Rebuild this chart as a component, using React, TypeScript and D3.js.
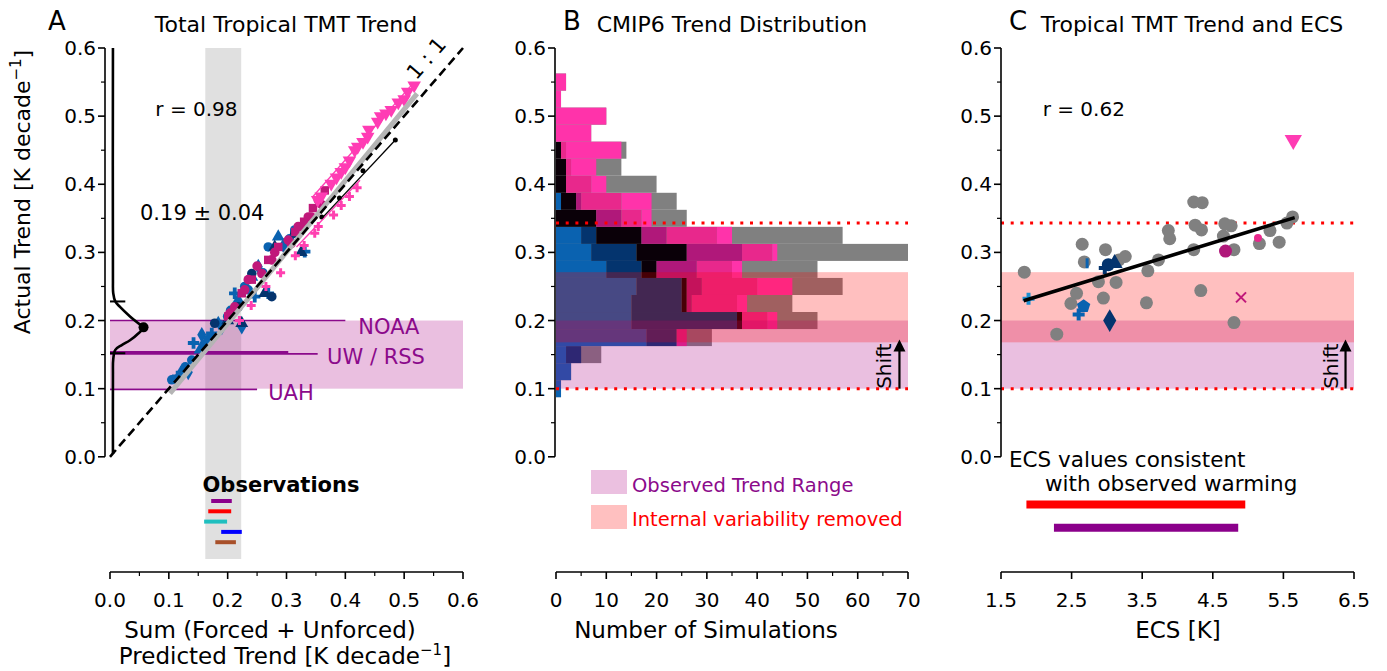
import React from "react";
import * as d3 from "d3";

const FONT = "DejaVu Sans, Verdana, sans-serif";
const PURPLE = "#8b0a8b";

// shared y axis (tropical TMT trend, K/decade)
const yTicks = [0, 0.1, 0.2, 0.3, 0.4, 0.5, 0.6];
const yMinor = [0.05, 0.15, 0.25, 0.35, 0.45, 0.55];
const observedRange = [0.1, 0.2];
const forcedRange = [0.168, 0.271];
const dottedLevels = [0.1, 0.343];

// ---------- panel A ----------
const aXTicks = [0, 0.1, 0.2, 0.3, 0.4, 0.5, 0.6];
const aXMinor = [0.05, 0.15, 0.25, 0.35, 0.45, 0.55];
const obsBand = [0.162, 0.223];

const obsNames = ["NOAA", "UW", "RSS", "UAH"];
const obsTrend = [0.2, 0.153, 0.151, 0.099];
const obsLineEnd = [0.4, 0.303, 0.353, 0.25];

// observations (predicted trend ranges)
const obsSegLo = [0.172, 0.167, 0.16, 0.189, 0.179];
const obsSegHi = [0.207, 0.206, 0.199, 0.224, 0.214];
const obsSegColor = ["#8b008b", "#ff0000", "#1fbfbf", "#0000ff", "#a8502a"];

// KDE of residual
const kdeTrend = [0.6, 0.26, 0.24, 0.228, 0.22, 0.206, 0.196, 0.19, 0.181, 0.171, 0.164, 0.157, 0.143, 0.12, 0.004];
const kdeDensity = [0.005, 0.005, 0.0055, 0.009, 0.017, 0.034, 0.048, 0.057, 0.048, 0.034, 0.02, 0.009, 0.0055, 0.005, 0.005];

// [predicted, actual]
const aBlue: [number, number][] = [
  [0.105, 0.113], [0.115, 0.118], [0.12, 0.123], [0.133, 0.124], [0.128, 0.132], [0.139, 0.142],
  [0.142, 0.167], [0.153, 0.157], [0.156, 0.179], [0.16, 0.165], [0.167, 0.172], [0.173, 0.181],
  [0.184, 0.196], [0.19, 0.19], [0.2, 0.206], [0.205, 0.215], [0.212, 0.24], [0.218, 0.23],
  [0.224, 0.191], [0.229, 0.25], [0.235, 0.245], [0.246, 0.235], [0.241, 0.264], [0.252, 0.279],
  [0.26, 0.27], [0.269, 0.308], [0.269, 0.24], [0.286, 0.323], [0.295, 0.31], [0.305, 0.32],
  [0.314, 0.333], [0.331, 0.301],
];
const aNavy: [number, number][] = [
  [0.178, 0.196], [0.2, 0.2], [0.218, 0.22], [0.224, 0.196], [0.241, 0.269], [0.263, 0.24],
  [0.275, 0.235], [0.28, 0.308], [0.314, 0.328], [0.325, 0.3],
];
const aMagenta: [number, number][] = [
  [0.201, 0.206], [0.204, 0.211], [0.212, 0.22], [0.224, 0.24], [0.229, 0.245], [0.235, 0.26],
  [0.241, 0.26], [0.25, 0.28], [0.258, 0.269], [0.269, 0.289], [0.275, 0.289], [0.28, 0.3],
  [0.286, 0.308], [0.303, 0.318], [0.308, 0.313], [0.315, 0.33], [0.32, 0.338], [0.325, 0.338],
  [0.33, 0.345], [0.337, 0.352], [0.342, 0.352], [0.345, 0.365], [0.354, 0.377], [0.36, 0.37],
  [0.365, 0.391],
];
const aHot: [number, number][] = [
  [0.353, 0.377], [0.359, 0.382], [0.376, 0.401], [0.385, 0.41], [0.393, 0.418], [0.4, 0.425],
  [0.407, 0.435], [0.416, 0.45], [0.421, 0.455], [0.43, 0.462], [0.438, 0.47], [0.44, 0.48],
  [0.455, 0.492], [0.46, 0.5], [0.469, 0.504], [0.478, 0.509], [0.49, 0.52], [0.5, 0.525],
  [0.506, 0.536], [0.517, 0.545],
];
const aPink: [number, number][] = [
  [0.22, 0.2], [0.24, 0.222], [0.265, 0.25], [0.29, 0.27], [0.315, 0.295], [0.33, 0.31],
  [0.348, 0.328], [0.354, 0.338], [0.38, 0.355], [0.393, 0.369], [0.407, 0.382], [0.42, 0.395],
];
const aBlack: [number, number][] = [[0.36, 0.352], [0.39, 0.38], [0.43, 0.42], [0.485, 0.465]];
const aFitLine: [number, number][] = [[0.102, 0.093], [0.522, 0.533]];
const aBlackLine: [number, number][] = [[0.36, 0.35], [0.485, 0.465]];
const aPinkLines: [number, number][][] = [
  [[0.317, 0.308], [0.425, 0.406]],
  [[0.345, 0.382], [0.515, 0.548]],
];

// ---------- panel B ----------
const bXTicks = [0, 10, 20, 30, 40, 50, 60, 70];
const bXMinor = [5, 15, 25, 35, 45, 55, 65];
const binCenters = [0.1, 0.125, 0.15, 0.175, 0.2, 0.225, 0.25, 0.275, 0.3, 0.325, 0.35, 0.375, 0.4, 0.425, 0.45, 0.475, 0.5, 0.525, 0.55];
const countAll = [1, 3, 9, 31, 52, 47, 57, 52, 70, 57, 26, 24, 20, 13, 14, 7, 10, 1, 2];
const countBlue = [1, 3, 2, 18, 15, 15, 16, 10, 7, 5, 0, 1, 0, 0, 0, 0, 0, 0, 0];
const countNavy = [0, 0, 3, 6, 21, 10, 9, 7, 9, 3, 0, 0, 0, 0, 0, 0, 0, 0, 0];
const countBlack = [0, 0, 0, 0, 1, 1, 1, 3, 10, 9, 8, 3, 2, 2, 1, 0, 0, 0, 0];
const countMagenta = [0, 0, 0, 0, 0, 1, 3, 8, 11, 5, 5, 1, 0, 0, 0, 0, 0, 0, 0];
const countPink = [0, 0, 0, 2, 5, 9, 11, 7, 6, 10, 4, 8, 5, 1, 1, 0, 0, 0, 0];
const countHot = [0, 0, 0, 0, 2, 2, 7, 2, 1, 3, 2, 6, 3, 5, 11, 7, 10, 1, 2];
const groupCounts = [countBlue, countNavy, countBlack, countMagenta, countPink, countHot];
const groupColors = ["#0a62b0", "#04346e", "#0a0008", "#b0187a", "#e8288c", "#ff33aa"];

// ---------- panel C ----------
const cXTicks = [1.5, 2.5, 3.5, 4.5, 5.5, 6.5];
const cGrayEcs = [1.83, 2.29, 2.49, 2.57, 2.65, 2.68, 2.88, 2.95, 2.98, 3.13, 3.17, 3.26, 3.56, 3.58, 3.73, 3.87, 3.89, 4.23, 4.35, 4.25, 4.34, 4.23, 4.33, 4.67, 4.76, 4.65, 4.8, 4.8, 5.16, 5.31, 5.44, 5.55, 5.63];
const cGrayTrend = [0.271, 0.18, 0.225, 0.24, 0.312, 0.286, 0.257, 0.233, 0.304, 0.256, 0.289, 0.294, 0.226, 0.273, 0.289, 0.332, 0.32, 0.374, 0.373, 0.34, 0.333, 0.304, 0.244, 0.342, 0.339, 0.324, 0.304, 0.197, 0.313, 0.332, 0.315, 0.343, 0.352];
const cModelEcs = [5.64, 4.68, 5.14, 4.9, 3.04, 2.67, 2.6, 3.02, 3.11, 2.97, 2.72, 1.89];
const cModelTrend = [0.465, 0.302, 0.321, 0.234, 0.2, 0.221, 0.209, 0.282, 0.284, 0.277, 0.284, 0.232];
const cModelShape = ["tri", "circle", "dot", "x", "diamond", "pent", "plus", "circle", "triup", "plus", "bar", "plus"];
const cModelColor = ["#ff3cb4", "#b0187a", "#e8288c", "#c0187a", "#04346e", "#0a62b0", "#0a62b0", "#04346e", "#04346e", "#04346e", "#0a62b0", "#1e90d0"];
const cFit: [number, number][] = [[1.82, 0.229], [5.66, 0.351]];
const ecsRangeLo = [1.86, 2.25];
const ecsRangeHi = [4.96, 4.86];
const ecsRangeColor = ["#ff0000", "#8b008b"];

// scales
const y = d3.scaleLinear().domain([-0.15, 0.6]).range([559, 48]);
const xA = d3.scaleLinear().domain([0, 0.6]).range([110, 463]);
const xB = d3.scaleLinear().domain([0, 70]).range([556, 908]);
const xC = d3.scaleLinear().domain([1.5, 6.5]).range([1001, 1354]);
const AXIS_Y = 572;
const TICK_FS = 20;
const LABEL_FS = 23;
const TITLE_FS = 22;

function sym(type: any, size: number) {
  return d3.symbol().type(type).size(size)() as string;
}

function YAxis({ x }: { x: number }) {
  return (
    <g>
      <line x1={x} x2={x} y1={y(0)} y2={y(0.6)} stroke="#000" strokeWidth={1.6} />
      {yTicks.map((t) => (
        <g key={t}>
          <line x1={x - 7} x2={x} y1={y(t)} y2={y(t)} stroke="#000" strokeWidth={1.6} />
          <text x={x - 9} y={y(t) + 7} textAnchor="end" fontSize={TICK_FS}>{t.toFixed(1)}</text>
        </g>
      ))}
      {yMinor.map((t) => (
        <line key={t} x1={x - 4} x2={x} y1={y(t)} y2={y(t)} stroke="#000" strokeWidth={1.2} />
      ))}
    </g>
  );
}

function XAxis({ scale, ticks, minor, fmt }: { scale: any; ticks: number[]; minor: number[]; fmt: (v: number) => string }) {
  const [a, b] = scale.range();
  return (
    <g>
      <line x1={a} x2={b} y1={AXIS_Y} y2={AXIS_Y} stroke="#000" strokeWidth={1.6} />
      {ticks.map((t) => (
        <g key={t}>
          <line x1={scale(t)} x2={scale(t)} y1={AXIS_Y} y2={AXIS_Y + 7} stroke="#000" strokeWidth={1.6} />
          <text x={scale(t)} y={AXIS_Y + 35} textAnchor="middle" fontSize={TICK_FS}>{fmt(t)}</text>
        </g>
      ))}
      {minor.map((t) => (
        <line key={t} x1={scale(t)} x2={scale(t)} y1={AXIS_Y} y2={AXIS_Y + 4} stroke="#000" strokeWidth={1.2} />
      ))}
    </g>
  );
}

function ShiftArrow({ x }: { x: number }) {
  const y0 = y(0.1), tip = y(0.172);
  return (
    <g>
      <line x1={x} x2={x} y1={y0} y2={tip + 10} stroke="#000" strokeWidth={2.2} />
      <path d={`M${x - 6},${tip + 12} L${x},${tip} L${x + 6},${tip + 12} Z`} fill="#000" />
      <text transform={`translate(${x - 8},${(y0 + tip) / 2 + 2}) rotate(-90)`} textAnchor="middle" fontSize={20}>Shift</text>
    </g>
  );
}

function PanelA() {
  const line = d3.line<[number, number]>().x((d) => xA(d[0])).y((d) => y(d[1]));
  const kde = d3
    .line<number>()
    .x((d, i) => xA(kdeDensity[i]))
    .y((d) => y(d))
    .curve(d3.curveCatmullRom);
  const blueShapes = [d3.symbolCircle, d3.symbolCross, d3.symbolTriangle, d3.symbolDiamond, d3.symbolCircle];
  return (
    <g>
      <rect x={xA(obsBand[0])} width={xA(obsBand[1]) - xA(obsBand[0])} y={y(0.6)} height={y(-0.15) - y(0.6)} fill="#e0e0e0" />
      <rect x={xA(0)} width={xA(0.6) - xA(0)} y={y(observedRange[1])} height={y(observedRange[0]) - y(observedRange[1])} fill="rgba(170,0,130,0.25)" />
      {obsNames.map((n, i) => (
        <line key={n} x1={xA(0)} x2={xA(obsLineEnd[i])} y1={y(obsTrend[i])} y2={y(obsTrend[i])} stroke={PURPLE} strokeWidth={n === "UW" ? 3 : 1.6} />
      ))}
      <text x={xA(0.422)} y={y(obsTrend[0]) + 13} fontSize={21} fill={PURPLE}>NOAA</text>
      <text x={xA(0.369)} y={y(obsTrend[1]) + 11} fontSize={21} fill={PURPLE}>UW / RSS</text>
      <text x={xA(0.269)} y={y(obsTrend[3]) + 11} fontSize={21} fill={PURPLE}>UAH</text>

      <path d={kde(kdeTrend) as string} fill="none" stroke="#000" strokeWidth={2.6} />
      <line x1={xA(0)} x2={xA(0.026)} y1={y(0.228)} y2={y(0.228)} stroke="#000" strokeWidth={2} />
      <line x1={xA(0)} x2={xA(0.026)} y1={y(0.152)} y2={y(0.152)} stroke="#000" strokeWidth={2} />
      <circle cx={xA(0.057)} cy={y(0.19)} r={5} fill="#000" />

      {aBlue.map((d, i) => (
        <path key={"b" + i} d={sym(blueShapes[i % 5], 72)} transform={`translate(${xA(d[0])},${y(d[1])})`} fill="#0a62b0" />
      ))}
      {aNavy.map((d, i) => (
        <path key={"n" + i} d={sym(i % 2 ? d3.symbolTriangle : d3.symbolCircle, 72)} transform={`translate(${xA(d[0])},${y(d[1])})`} fill="#04346e" />
      ))}
      {aMagenta.map((d, i) => (
        <path key={"m" + i} d={sym(i % 3 === 0 ? d3.symbolSquare : d3.symbolCircle, 72)} transform={`translate(${xA(d[0])},${y(d[1])})`} fill="#c0187a" />
      ))}
      {aPink.map((d, i) => (
        <path key={"p" + i} d={sym(d3.symbolCross, 45)} transform={`translate(${xA(d[0])},${y(d[1])})`} fill="#ff40b0" />
      ))}
      {aHot.map((d, i) => (
        <path key={"h" + i} d={sym(d3.symbolTriangle, 80)} transform={`translate(${xA(d[0])},${y(d[1])}) rotate(180)`} fill="#ff3cb4" />
      ))}
      {aBlack.map((d, i) => (
        <circle key={"k" + i} cx={xA(d[0])} cy={y(d[1])} r={2.5} fill="#000" />
      ))}
      {aPinkLines.map((l, i) => (
        <path key={"pl" + i} d={line(l) as string} stroke="#ff3cb4" strokeWidth={1.3} fill="none" />
      ))}
      <path d={line(aBlackLine) as string} stroke="#000" strokeWidth={1.3} fill="none" />
      <path d={line(aFitLine) as string} stroke="#b4b4b4" strokeWidth={5} fill="none" />
      <line x1={xA(0)} y1={y(0)} x2={xA(0.6)} y2={y(0.6)} stroke="#000" strokeWidth={2.6} strokeDasharray="9,5" />
      <text transform={`translate(${xA(0.547)},${y(0.578)}) rotate(-49)`} textAnchor="middle" fontSize={21}>1 : 1</text>

      <text x={xA(0.077)} y={y(0.5)} fontSize={20}>r = 0.98</text>
      <text x={xA(0.051)} y={y(0.348)} fontSize={21}>0.19 ± 0.04</text>

      <text x={281} y={492} textAnchor="middle" fontSize={21} fontWeight="bold">Observations</text>
      {obsSegLo.map((lo, i) => (
        <line key={"o" + i} x1={xA(lo)} x2={xA(obsSegHi[i])} y1={501 + i * 10.3} y2={501 + i * 10.3} stroke={obsSegColor[i]} strokeWidth={4} />
      ))}

      <YAxis x={105} />
      <XAxis scale={xA} ticks={aXTicks} minor={aXMinor} fmt={(v) => v.toFixed(1)} />
      <text x={286} y={32} textAnchor="middle" fontSize={TITLE_FS}>Total Tropical TMT Trend</text>
      <text x={57} y={30} textAnchor="middle" fontSize={26}>A</text>
      <text x={270} y={638} textAnchor="middle" fontSize={LABEL_FS}>Sum (Forced + Unforced)</text>
      <text x={285} y={664} textAnchor="middle" fontSize={LABEL_FS}>
        Predicted Trend [K decade<tspan dy={-9} fontSize={15}>−1</tspan><tspan dy={9}>]</tspan>
      </text>
      <text transform="translate(30,192) rotate(-90)" textAnchor="middle" fontSize={22}>
        Actual Trend [K decade<tspan dy={-9} fontSize={15}>−1</tspan><tspan dy={9}>]</tspan>
      </text>
    </g>
  );
}

function PanelB() {
  const half = 0.0125;
  return (
    <g>
      {binCenters.map((c, i) => {
        const top = y(c + half);
        const h = y(c - half) - top;
        let acc = 0;
        return (
          <g key={c}>
            <rect x={xB(0)} y={top} width={xB(countAll[i]) - xB(0)} height={h} fill="#808080" />
            {groupCounts.map((g, k) => {
              const x0 = xB(acc);
              acc += g[i];
              return g[i] > 0 ? <rect key={k} x={x0} y={top} width={xB(acc) - x0} height={h} fill={groupColors[k]} /> : null;
            })}
          </g>
        );
      })}
      <rect x={xB(0)} width={xB(70) - xB(0)} y={y(observedRange[1])} height={y(observedRange[0]) - y(observedRange[1])} fill="rgba(170,0,130,0.25)" />
      <rect x={xB(0)} width={xB(70) - xB(0)} y={y(forcedRange[1])} height={y(forcedRange[0]) - y(forcedRange[1])} fill="rgba(255,0,0,0.25)" />
      {dottedLevels.map((v) => (
        <line key={v} x1={xB(0)} x2={xB(70)} y1={y(v)} y2={y(v)} stroke="#ff0000" strokeWidth={3} strokeDasharray="3,6.7" />
      ))}
      <ShiftArrow x={xB(68.3)} />

      <rect x={591} y={470} width={36} height={24} fill="#ebc0e0" />
      <text x={632} y={492} fontSize={19.5} fill={PURPLE}>Observed Trend Range</text>
      <rect x={591} y={505} width={36} height={24} fill="#ffc0c0" />
      <text x={632} y={526} fontSize={19.5} fill="#ff0000">Internal variability removed</text>

      <YAxis x={555} />
      <XAxis scale={xB} ticks={bXTicks} minor={bXMinor} fmt={(v) => String(v)} />
      <text x={732} y={32} textAnchor="middle" fontSize={TITLE_FS}>CMIP6 Trend Distribution</text>
      <text x={572} y={30} textAnchor="middle" fontSize={26}>B</text>
      <text x={706} y={638} textAnchor="middle" fontSize={LABEL_FS}>Number of Simulations</text>
    </g>
  );
}

function CMarker({ shape, x, yy, color }: { shape: string; x: number; yy: number; color: string }) {
  const t = `translate(${x},${yy})`;
  switch (shape) {
    case "tri":
      return <path d={sym(d3.symbolTriangle, 130)} transform={t + " rotate(180)"} fill={color} />;
    case "triup":
      return <path d={sym(d3.symbolTriangle, 110)} transform={t} fill={color} />;
    case "circle":
      return <circle cx={x} cy={yy} r={6.5} fill={color} />;
    case "dot":
      return <circle cx={x} cy={yy} r={4} fill={color} />;
    case "x":
      return (
        <g stroke={color} strokeWidth={2}>
          <line x1={x - 5} x2={x + 5} y1={yy - 5} y2={yy + 5} />
          <line x1={x - 5} x2={x + 5} y1={yy + 5} y2={yy - 5} />
        </g>
      );
    case "diamond":
      return <path d={sym(d3.symbolDiamond, 150)} transform={t} fill={color} />;
    case "pent":
      return <path d="M0,-7L6.7,-2.2L4.1,5.7L-4.1,5.7L-6.7,-2.2Z" transform={t} fill={color} />;
    case "plus":
      return <path d={sym(d3.symbolCross, 80)} transform={t} fill={color} />;
    case "bar":
      return <line x1={x} x2={x} y1={yy - 5} y2={yy + 5} stroke={color} strokeWidth={3} />;
    default:
      return null;
  }
}

function PanelC() {
  const line = d3.line<[number, number]>().x((d) => xC(d[0])).y((d) => y(d[1]));
  return (
    <g>
      <rect x={xC(1.5)} width={xC(6.5) - xC(1.5)} y={y(observedRange[1])} height={y(observedRange[0]) - y(observedRange[1])} fill="rgba(170,0,130,0.25)" />
      <rect x={xC(1.5)} width={xC(6.5) - xC(1.5)} y={y(forcedRange[1])} height={y(forcedRange[0]) - y(forcedRange[1])} fill="rgba(255,0,0,0.25)" />
      {dottedLevels.map((v) => (
        <line key={v} x1={xC(1.5)} x2={xC(6.5)} y1={y(v)} y2={y(v)} stroke="#ff0000" strokeWidth={3} strokeDasharray="3,6.7" />
      ))}
      <ShiftArrow x={xC(6.38)} />
      {cGrayEcs.map((e, i) => (
        <circle key={i} cx={xC(e)} cy={y(cGrayTrend[i])} r={6.5} fill="#808080" />
      ))}
      {cModelEcs.map((e, i) => (
        <CMarker key={"m" + i} shape={cModelShape[i]} x={xC(e)} yy={y(cModelTrend[i])} color={cModelColor[i]} />
      ))}
      <path d={line(cFit) as string} stroke="#000" strokeWidth={3.6} fill="none" />
      <text x={xC(2.09)} y={y(0.5)} fontSize={20}>r = 0.62</text>

      <text x={1009} y={467} fontSize={21.5}>ECS values consistent</text>
      <text x={1045} y={491} fontSize={21.5}>with observed warming</text>
      {ecsRangeLo.map((lo, i) => (
        <line key={"r" + i} x1={xC(lo)} x2={xC(ecsRangeHi[i])} y1={y(-0.07 - i * 0.034)} y2={y(-0.07 - i * 0.034)} stroke={ecsRangeColor[i]} strokeWidth={8} />
      ))}

      <YAxis x={1001} />
      <XAxis scale={xC} ticks={cXTicks} minor={[]} fmt={(v) => v.toFixed(1)} />
      <text x={1192} y={32} textAnchor="middle" fontSize={TITLE_FS}>Tropical TMT Trend and ECS</text>
      <text x={1018} y={30} textAnchor="middle" fontSize={26}>C</text>
      <text x={1178} y={638} textAnchor="middle" fontSize={LABEL_FS}>ECS [K]</text>
    </g>
  );
}

export default function App() {
  return (
    <svg
      width={1387}
      height={671}
      viewBox="0 0 1387 671"
      style={{ position: "absolute", left: 0, top: 0, background: "#fff" }}
      fontFamily={FONT}
    >
      <rect width={1387} height={671} fill="#fff" />
      <PanelA />
      <PanelB />
      <PanelC />
    </svg>
  );
}
